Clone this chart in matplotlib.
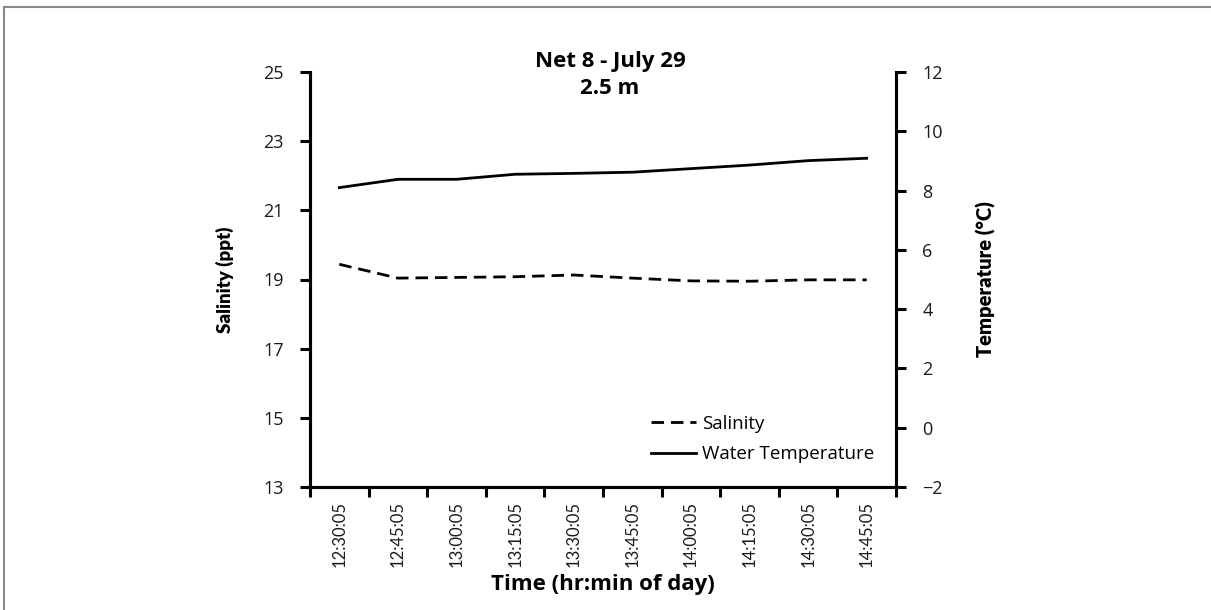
import matplotlib
matplotlib.use("Agg")
import matplotlib.pyplot as plt
from matplotlib.lines import Line2D

plt.rcParams['font.family'] = ['Open Sans', 'DejaVu Sans']

times = ["12:30:05", "12:45:05", "13:00:05", "13:15:05", "13:30:05",
         "13:45:05", "14:00:05", "14:15:05", "14:30:05", "14:45:05"]
salinity = [19.44, 19.04, 19.06, 19.08, 19.13, 19.04, 18.96, 18.95, 18.99, 18.99]
water_temp = [8.10, 8.38, 8.38, 8.55, 8.58, 8.62, 8.74, 8.86, 9.01, 9.09]

sal_ticks = [13, 15, 17, 19, 21, 23, 25]
temp_ticks = [-2, 0, 2, 4, 6, 8, 10, 12]

W, H = 1211, 610
fig = plt.figure(figsize=(W / 100, H / 100), dpi=100)
fig.patch.set_facecolor('white')

# thin grey frame around the chart area
fig.add_artist(Line2D([4 / W, 4 / W], [0, 1 - 7 / H], transform=fig.transFigure,
                      color='#8a8a8a', lw=1.5))
fig.add_artist(Line2D([4 / W, 1], [1 - 7 / H, 1 - 7 / H], transform=fig.transFigure,
                      color='#8a8a8a', lw=1.5))

left, right, bottom, top = 310 / W, 896 / W, 1 - 487 / H, 1 - 72 / H
ax = fig.add_axes([left, bottom, right - left, top - bottom])
ax2 = ax.twinx()

x = list(range(len(times)))
txt = '#1a1a1a'
spine_w = 2.2
narrow = ['Lato', 'DejaVu Sans']

l1, = ax.plot(x, salinity, color='black', lw=2.0, ls=(0, (4.5, 2.5)))
l2, = ax2.plot(x, water_temp, color='black', lw=2.0)

ax.set_xlim(-0.5, len(times) - 0.5)
ax.set_ylim(13, 25)
ax2.set_ylim(-2, 12)
ax.set_yticks(sal_ticks)
ax2.set_yticks(temp_ticks)

# category ticks sit between the categories
ax.set_xticks([i - 0.5 for i in range(len(times) + 1)])
ax.set_xticklabels([])
ax.set_xticks(x, minor=True)
ax.set_xticklabels(times, minor=True, rotation=90, fontsize=12, color=txt,
                   family=narrow)
ax.tick_params(axis='x', which='minor', length=0, pad=10)
ax.tick_params(axis='x', which='major', direction='out', length=7, width=spine_w)

ax.tick_params(axis='y', direction='out', length=7, width=spine_w,
               labelsize=13, labelcolor=txt, pad=12)
ax2.tick_params(axis='y', direction='out', length=7, width=spine_w,
                labelsize=13, labelcolor=txt, pad=12)

for a in (ax, ax2):
    a.spines['top'].set_visible(False)
    for s in ('left', 'right', 'bottom'):
        a.spines[s].set_linewidth(spine_w)

ax.set_ylabel("Salinity (ppt)", fontsize=13.5, fontweight='heavy', labelpad=21,
              family=narrow)
ax2.set_ylabel("Temperature (°C)", fontsize=14.5, fontweight='heavy', rotation=90,
               labelpad=24, family=narrow)
ax.set_xlabel("Time (hr:min of day)", fontsize=16, fontweight='bold', labelpad=5)

fig.text(610 / W, 1 - 62 / H, "Net 8 - July 29", ha='center', va='center',
         fontsize=16, fontweight='bold')
fig.text(610 / W, 1 - 89 / H, "2.5 m", ha='center', va='center',
         fontsize=16, fontweight='bold')

fig.legend([l1, l2], ["Salinity", "Water Temperature"], loc='upper left',
           bbox_to_anchor=(651 / W, 1 - 415 / H), bbox_transform=fig.transFigure,
           frameon=False, fontsize=13.5, handlelength=2.4, handletextpad=0.3,
           labelspacing=0.65, borderpad=0, borderaxespad=0)

fig.savefig("out.png", dpi=100)
